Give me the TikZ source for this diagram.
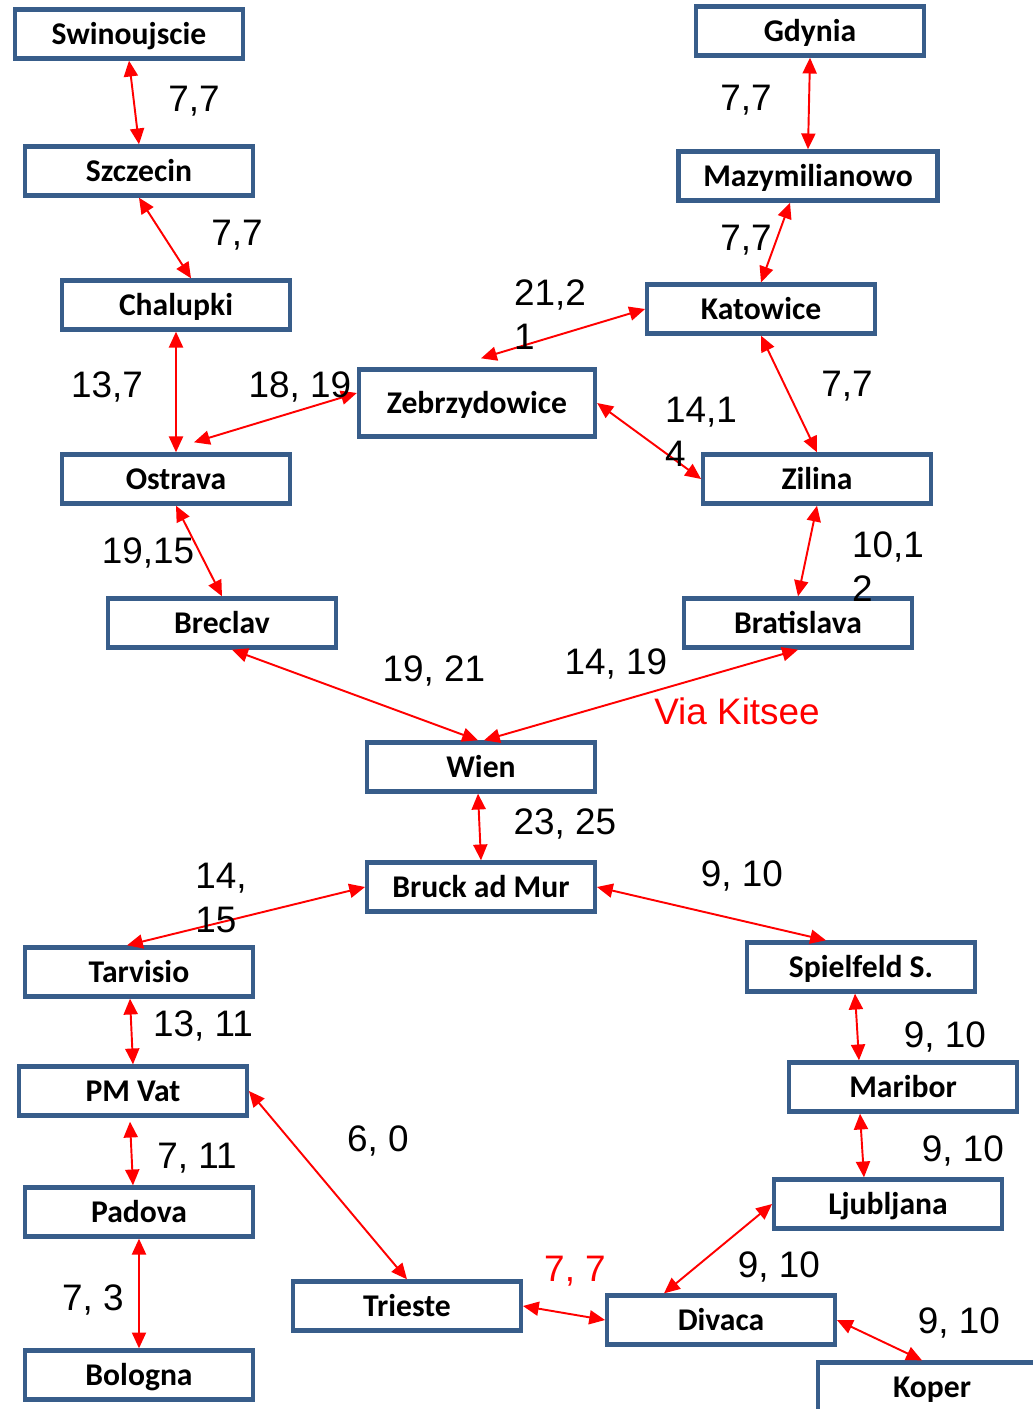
\documentclass[tikz,border=0pt]{standalone}
\usepackage{fontspec}
\setmainfont{Liberation Sans}
\newfontfamily\cityfont{Carlito}
\usetikzlibrary{arrows.meta}
\usetikzlibrary{calc}
\definecolor{boxblue}{RGB}{56,93,138}
\tikzset{city/.style = {draw=boxblue, line width=2.5pt, fill=white,
                        minimum width=4.55cm, minimum height=0.98cm, inner sep=0,
                        text height=12pt, text depth=0pt,
                        font=\cityfont\bfseries\fontsize{18}{20}\selectfont}}
\tikzset{km/.style = {inner sep=0, align=left, font=\fontsize{21}{25}\selectfont}}
\tikzset{link/.style = {red, line width=1.1pt,
                        {Triangle[length=9pt,width=8pt]}-{Triangle[length=9pt,width=8pt]}}}

\begin{document}
\begin{tikzpicture}[x=0.02cm, y=-0.02cm]
          \useasboundingbox (0, 0) rectangle (1033, 1409);
          \clip (0, 0) rectangle (1033, 1409);
          % stations
          \node [city] (swi) at (129, 34) {Swinoujscie};
          \node [city] (szc) at (139, 171) {Szczecin};
          \node [city] (cha) at (176, 305) {Chalupki};
          \node [city] (ost) at (176, 479) {Ostrava};
          \node [city] (bre) at (222, 623) {Breclav};
          \node [city, minimum width=4.72cm, minimum height=1.34cm] (zeb) at (477, 403) {Zebrzydowice};
          \node [city] (gdy) at (810, 31) {Gdynia};
          \node [city, minimum width=5.18cm] (maz) at (808, 176) {Mazymilianowo};
          \node [city] (kat) at (761, 309) {Katowice};
          \node [city] (zil) at (817, 479) {Zilina};
          \node [city] (bra) at (798, 623) {Bratislava};
          \node [city] (wie) at (481, 767) {Wien};
          \node [city] (bru) at (481, 887) {Bruck ad Mur};
          \node [city] (spi) at (861, 967) {Spielfeld S.};
          \node [city] (tar) at (139, 972) {Tarvisio};
          \node [city] (pmv) at (133, 1091) {PM Vat};
          \node [city] (pad) at (139, 1212) {Padova};
          \node [city] (bol) at (139, 1375) {Bologna};
          \node [city] (tri) at (407, 1306) {Trieste};
          \node [city] (div) at (721, 1320) {Divaca};
          \node [city] (mar) at (903, 1087) {Maribor};
          \node [city] (lju) at (888, 1204) {Ljubljana};
          \node [city] (kop) at (932, 1387) {Koper};
          % links
          \draw [link] (swi.south) -- (szc.north);
          \draw [link] (szc.south) -- ($(cha.north)+(15, 0)$);
          \draw [link] (cha.south) -- (ost.north);
          \draw [link] ($(zeb.west)+(0, -10)$) -- ($(ost.north)+(18, -10)$);
          \draw [link] (ost.south) -- (bre.north);
          \draw [link] ($(bre.south)+(10, 0)$) -- ($(wie.north)+(-3, 0)$);
          \draw [link] (bra.south) -- ($(wie.north)+(3, 0)$);
          \draw [link] (kat.west) -- ($(zeb.north)+(4, -9)$);
          \draw [link] (zeb.east) -- (zil.west);
          \draw [link] (gdy.south) -- (maz.north);
          \draw [link] ($(maz.south)+(-18, 0)$) -- (kat.north);
          \draw [link] (kat.south) -- (zil.north);
          \draw [link] (zil.south) -- (bra.north);
          \draw [link] ($(wie.south)+(-3, 0)$) -- (bru.north);
          \draw [link] (bru.west) -- ($(tar.north)+(-12, 0)$);
          \draw [link] (bru.east) -- ($(spi.north)+(-35, 0)$);
          \draw [link] ($(tar.south)+(-9, 0)$) -- (pmv.north);
          \draw [link] ($(pmv.south)+(-3, 4)$) -- ($(pad.north)+(-6, 0)$);
          \draw [link] (pmv.east) -- (tri.north);
          \draw [link] (pad.south) -- (bol.north);
          \draw [link] ($(spi.south)+(-6, 0)$) -- ($(mar.north)+(-44, 0)$);
          \draw [link] ($(mar.south)+(-43, 0)$) -- ($(lju.north)+(-24, 0)$);
          \draw [link] (lju.west) -- ($(div.north)+(-57, 0)$);
          \draw [link] (tri.east) -- (div.west);
          \draw [link] (div.east) -- ($(kop.north)+(-10, 0)$);
          % times
          \node [km] (t1) at (194, 101) {7,7};
          \node [km] (t2) at (237, 235) {7,7};
          \node [km] (t3) at (107, 387) {13,7};
          \node [km] (t4) at (300, 387) {18, 19};
          \node [km] (t5) at (148, 553) {19,15};
          \node [km] (t6) at (550, 315) {21,2\\1};
          \node [km] (t7) at (701, 432) {14,1\\4};
          \node [km] (t8) at (746, 100) {7,7};
          \node [km] (t9) at (746, 240) {7,7};
          \node [km] (t10) at (847, 386) {7,7};
          \node [km] (t11) at (888, 567) {10,1\\2};
          \node [km] (t12) at (434, 671) {19, 21};
          \node [km] (t13) at (616, 664) {14, 19};
          \node [km, red] (via) at (737, 711) {Via Kitsee};
          \node [km] (t14) at (565, 824) {23, 25};
          \node [km] (t15) at (221, 898) {14,\\15};
          \node [km] (t16) at (742, 876) {9, 10};
          \node [km] (t17) at (203, 1026) {13, 11};
          \node [km] (t18) at (945, 1037) {9, 10};
          \node [km] (t19) at (378, 1141) {6, 0};
          \node [km] (t20) at (197, 1158) {7, 11};
          \node [km] (t21) at (963, 1151) {9, 10};
          \node [km] (t22) at (93, 1300) {7, 3};
          \node [km, red] (t23) at (575, 1271) {7, 7};
          \node [km] (t24) at (779, 1267) {9, 10};
          \node [km] (t25) at (959, 1323) {9, 10};
        \end{tikzpicture}
\end{document}
